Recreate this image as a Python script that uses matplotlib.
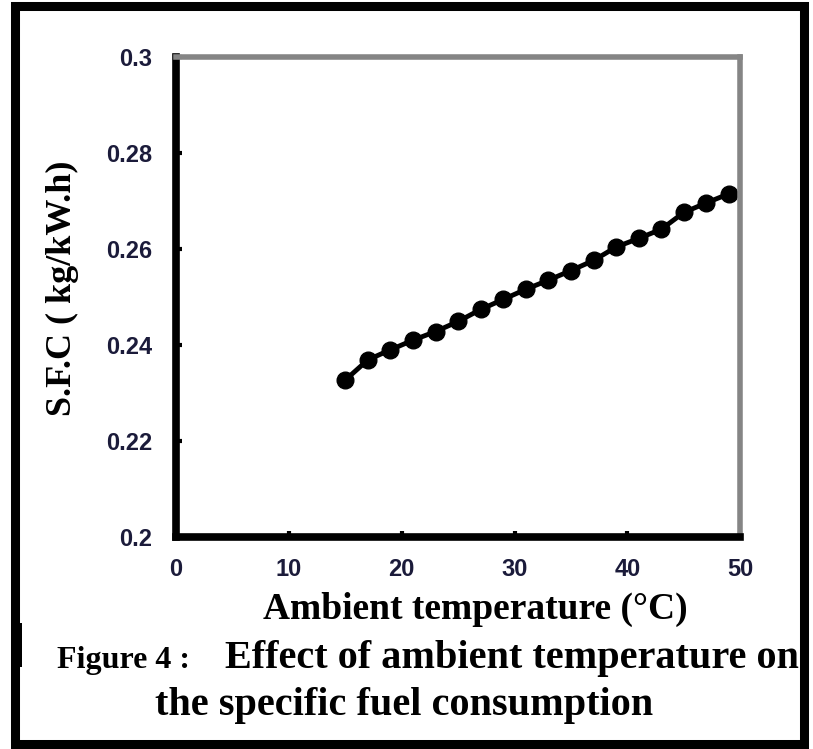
import matplotlib
matplotlib.use("Agg")
from matplotlib import pyplot as plt
from matplotlib.patches import Rectangle

# ambient temperature (deg C) and specific fuel consumption (kg/kW.h)
temp = [15, 17, 19, 21, 23, 25, 27, 29, 31, 33, 35, 37, 39, 41, 43, 45, 47, 49]
sfc = [0.2327, 0.2369, 0.2390, 0.2410, 0.2428, 0.2449, 0.2474, 0.2495, 0.2516,
       0.2535, 0.2555, 0.2576, 0.2604, 0.2622, 0.2641, 0.2676, 0.2696, 0.2715]

xticks = [0, 10, 20, 30, 40, 50]
yticks = [0.2, 0.22, 0.24, 0.26, 0.28, 0.3]
ylabels = ["0.2", "0.22", "0.24", "0.26", "0.28", "0.3"]

sans = ["Liberation Sans", "DejaVu Sans"]
serif = ["Liberation Serif", "DejaVu Serif"]
navy = "#1b1b3a"

fig = plt.figure(figsize=(8.13, 7.49), dpi=100)

# outer frame + the little bump on its left side
fig.patches.append(Rectangle((0.01845, 0.0067), 0.9705, 0.9853, transform=fig.transFigure,
                             fill=False, lw=6.5, edgecolor="black"))
fig.patches.append(Rectangle((0.022, 0.109), 0.005, 0.059, transform=fig.transFigure,
                             color="black", lw=0))

ax = fig.add_axes([0.2165, 0.283, 0.694, 0.641])
ax.plot(temp, sfc, color="black", lw=3.5, marker="o", ms=12, mfc="black", mec="black")

ax.set_xlim(0, 50)
ax.set_ylim(0.2, 0.3)
ax.set_xticks(xticks)
ax.set_yticks(yticks)
ax.set_xticklabels([str(t) for t in xticks], family=sans, weight="bold", size=17, color=navy)
ax.set_yticklabels(ylabels, family=sans, weight="bold", size=17, color=navy)
ax.tick_params(direction="in", length=4, width=3, color="black")
ax.tick_params(axis="x", pad=15)
ax.tick_params(axis="y", pad=17)

for side in ["left", "bottom"]:
    ax.spines[side].set_linewidth(5.5)
    ax.spines[side].set_color("black")
for side in ["top", "right"]:
    ax.spines[side].set_linewidth(4)
    ax.spines[side].set_color("#858585")

ax.set_xlabel("Ambient temperature (\u00b0C)", family=serif, weight="bold", size=27,
              va="baseline")
ax.xaxis.set_label_coords(0.53, -0.171)
ax.set_ylabel("S.F.C ( kg/kW.h)", family=serif, weight="bold", size=26, va="center")
ax.yaxis.set_label_coords(-0.202, 0.519)

# caption
fig.text(0.070, 0.1081, "Figure 4 :", family=serif, weight="bold", size=23, va="baseline")
fig.text(0.277, 0.1081, "Effect of ambient temperature on", family=serif, weight="bold",
         size=29, va="baseline")
fig.text(0.1907, 0.0454, "the specific fuel consumption", family=serif, weight="bold",
         size=29, va="baseline")

fig.savefig("out.png", dpi=100)
